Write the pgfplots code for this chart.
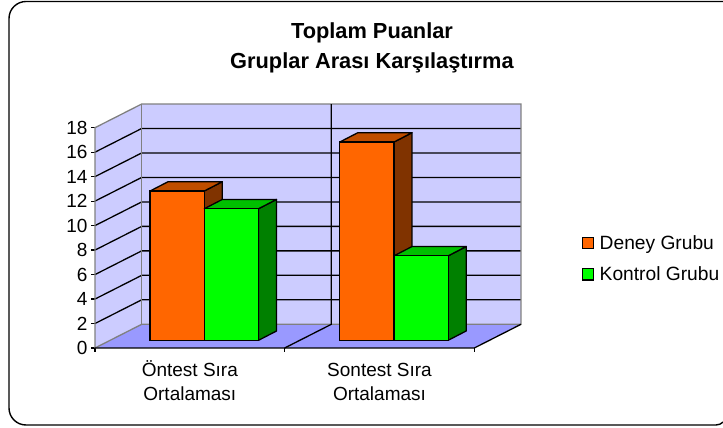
\documentclass[border=0pt]{standalone}
\usepackage{fontspec}
\setmainfont{Liberation Sans}
\usepackage{pgfplots}
\pgfplotsset{compat=1.18}
\definecolor{wall}{HTML}{CCCCFF}
\definecolor{floorc}{HTML}{9999FF}
\definecolor{edgec}{HTML}{808080}
\definecolor{oF}{HTML}{FF6600}
\definecolor{oT}{HTML}{BF4D00}
\definecolor{oS}{HTML}{803300}
\definecolor{gF}{HTML}{00FF00}
\definecolor{gT}{HTML}{00BF00}
\definecolor{gS}{HTML}{008000}
\pgfplotsset{
  grid3d/.style={black,line width=1.3pt,forget plot,no markers},
  edge3d/.style={edgec,line width=1.3pt,forget plot,no markers},
  poly3d/.style={draw=black,line width=1.3pt,line join=round,forget plot,no markers},
}
\begin{document}
\begin{tikzpicture}[x=1pt,y=1pt]
\path[use as bounding box] (0,0) rectangle (723,428);
% chart frame, open on the right where the picture cuts it
\draw[black,line width=1.4pt] (723,426.5) -- (26,426.5) arc[start angle=90,end angle=180,radius=17] -- (9,20) arc[start angle=180,end angle=270,radius=17] -- (716,3) arc[start angle=270,end angle=315,radius=10];
\node[align=center,font=\fontsize{21.8}{30}\selectfont\bfseries] at (372,380) {Toplam Puanlar\\Gruplar Arası Karşılaştırma};

% walls, floor, grid
\begin{axis}[
  at={(95pt,80pt)},anchor=south west,
  width=379.3pt,height=220.3pt,scale only axis,
  xmin=0,xmax=2,ymin=0,ymax=18,clip=false,
  axis line style={draw=none},
  xtick={0.5,1.5},
  xticklabels={{\rule{0pt}{17.5pt}Öntest Sıra\\Ortalaması},{\rule{0pt}{17.5pt}Sontest Sıra\\Ortalaması}},
  minor xtick={0,1,2},
  ytick={0,2,...,18},
  tick pos=left,tick align=outside,
  major tick length=4pt,minor tick length=4pt,
  x tick style={draw=none},
  minor x tick style={draw=black,line width=1.2pt},
  y tick style={draw=black,line width=1.2pt},
  xticklabel style={align=center,font=\fontsize{19}{24.5}\selectfont,yshift=-3pt},
  yticklabel style={font=\fontsize{19}{22}\selectfont},
  /pgf/number format/assume math mode=true,
]
\addplot[fill=wall,draw=none,forget plot,no markers] coordinates {(0,0)(0,18)(0.2462,19.936)(0.2462,1.936)} -- cycle;
\addplot[fill=wall,draw=none,forget plot,no markers] coordinates {(0.2462,1.936)(0.2462,19.936)(2.2462,19.936)(2.2462,1.936)} -- cycle;
\addplot[fill=floorc,draw=none,forget plot,no markers] coordinates {(0,0)(2,0)(2.2462,1.936)(0.2462,1.936)} -- cycle;
\addplot[grid3d] coordinates {(0,2)(0.2462,3.936)(2.2462,3.936)};
\addplot[grid3d] coordinates {(0,4)(0.2462,5.936)(2.2462,5.936)};
\addplot[grid3d] coordinates {(0,6)(0.2462,7.936)(2.2462,7.936)};
\addplot[grid3d] coordinates {(0,8)(0.2462,9.936)(2.2462,9.936)};
\addplot[grid3d] coordinates {(0,10)(0.2462,11.936)(2.2462,11.936)};
\addplot[grid3d] coordinates {(0,12)(0.2462,13.936)(2.2462,13.936)};
\addplot[grid3d] coordinates {(0,14)(0.2462,15.936)(2.2462,15.936)};
\addplot[grid3d] coordinates {(0,16)(0.2462,17.936)(2.2462,17.936)};
\addplot[edge3d] coordinates {(0,0)(0,18)(0.2462,19.936)(2.2462,19.936)(2.2462,1.936)(0.2462,1.936)(0,0)};
\addplot[edge3d] coordinates {(0.2462,19.936)(0.2462,1.936)};
\addplot[grid3d] coordinates {(1.2462,19.936)(1.2462,1.936)(1,0)};
\addplot[grid3d] coordinates {(0,0)(2,0)(2.2462,1.936)};
\end{axis}

% bars, on the plane set in from the front of the floor
\begin{axis}[
  at={(109.5pt,87.7pt)},anchor=south west,
  width=379.3pt,height=220.3pt,scale only axis,
  xmin=0,xmax=2,ymin=0,ymax=18,clip=false,hide axis,
  legend style={draw=none,fill=none,at={(542pt,81.7pt)},anchor=center,
    font=\fontsize{19.2}{22}\selectfont,row sep=12pt,column sep=3.5pt,inner sep=0pt},
  legend cell align=left,
  legend image code/.code={\draw[#1,draw=black,line width=1.1pt] (0pt,-5.7pt) rectangle (11.4pt,5.7pt);},
]
% first category: Deney
\addplot[poly3d,fill=oS] coordinates {(0.5,0)(0.5,12.2)(0.5949,12.96)(0.5949,0.76)} -- cycle;
\addplot[poly3d,fill=oT] coordinates {(0.2142,12.2)(0.5,12.2)(0.5949,12.96)(0.3091,12.96)} -- cycle;
% second category: Deney
\addplot[poly3d,fill=oS] coordinates {(1.5,0)(1.5,16.2)(1.5949,16.96)(1.5949,0.76)} -- cycle;
\addplot[poly3d,fill=oT] coordinates {(1.2142,16.2)(1.5,16.2)(1.5949,16.96)(1.3091,16.96)} -- cycle;
\addplot[ybar,bar width=54.2pt,bar shift=-27.1pt,fill=oF,draw=black,line width=1.3pt] coordinates {(0.5,12.2)(1.5,16.2)};
\addlegendentry{Deney Grubu}
% Kontrol
\addplot[poly3d,fill=gS] coordinates {(0.7858,0)(0.7858,10.75)(0.8807,11.51)(0.8807,0.76)} -- cycle;
\addplot[poly3d,fill=gT] coordinates {(0.5,10.75)(0.7858,10.75)(0.8807,11.51)(0.5949,11.51)} -- cycle;
\addplot[poly3d,fill=gS] coordinates {(1.7858,0)(1.7858,6.9)(1.8807,7.66)(1.8807,0.76)} -- cycle;
\addplot[poly3d,fill=gT] coordinates {(1.5,6.9)(1.7858,6.9)(1.8807,7.66)(1.5949,7.66)} -- cycle;
\addplot[ybar,bar width=54.2pt,bar shift=27.1pt,fill=gF,draw=black,line width=1.3pt] coordinates {(0.5,10.75)(1.5,6.9)};
\addlegendentry{Kontrol Grubu}
\end{axis}
\end{tikzpicture}
\end{document}
